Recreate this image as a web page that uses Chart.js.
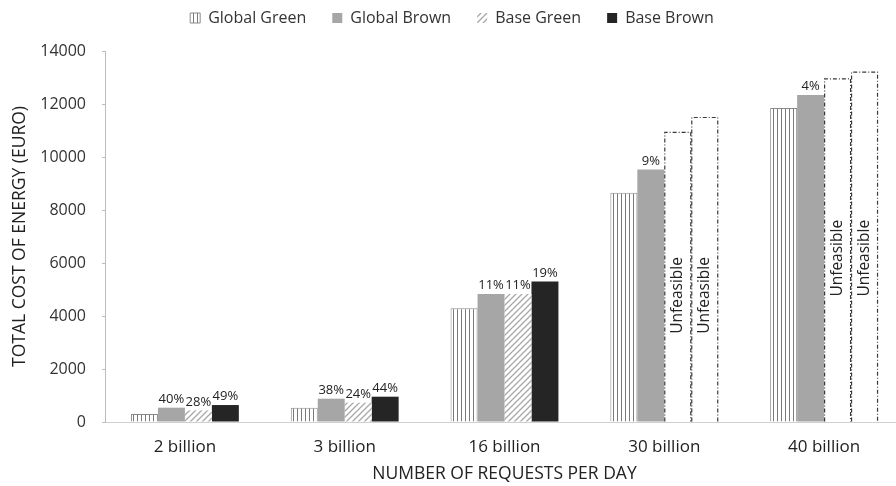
<!DOCTYPE html>
<html>
<head>
<meta charset="utf-8">
<script src="https://cdn.jsdelivr.net/npm/chart.js@4/dist/chart.umd.min.js"></script>
<style>
html,body{margin:0;padding:0;background:#fff;overflow:hidden;width:896px;height:486px;}
#wrap{position:relative;width:906px;height:486px;}
</style>
</head>
<body>
<div id="wrap"><canvas id="c" width="906" height="486"></canvas></div>
<script>
const categories = ['2 billion', '3 billion', '16 billion', '30 billion', '40 billion'];
const globalGreen = [300, 540, 4290, 8650, 11850];
const globalBrown = [540, 880, 4830, 9530, 12340];
const baseGreen = [440, 730, 4830, 10950, 12970];
const baseBrown = [640, 955, 5300, 11510, 13220];
const globalBrownPct = ['40%', '38%', '11%', '9%', '4%'];
const baseGreenPct = ['28%', '24%', '11%', '', ''];
const baseBrownPct = ['49%', '44%', '19%', '', ''];
const baseGreenFeasible = [true, true, true, false, false];
const baseBrownFeasible = [true, true, true, false, false];
const yTicks = [0, 2000, 4000, 6000, 8000, 10000, 12000, 14000];

const FONT = "'Open Sans', 'Liberation Sans', sans-serif";
const LEGEND_PAD = 26;
const LEGEND_FONT = 16;

function stripePattern() {
  const c = document.createElement('canvas');
  c.width = 4; c.height = 4;
  const x = c.getContext('2d');
  x.fillStyle = '#ffffff'; x.fillRect(0, 0, 4, 4);
  x.fillStyle = '#7a7a7a'; x.fillRect(1, 0, 1, 4);
  return x.createPattern(c, 'repeat');
}
function hatchPattern() {
  const s = 6;
  const c = document.createElement('canvas');
  c.width = s; c.height = s;
  const x = c.getContext('2d');
  x.fillStyle = '#ffffff'; x.fillRect(0, 0, s, s);
  x.strokeStyle = '#a8a8a8'; x.lineWidth = 1.3;
  x.beginPath();
  x.moveTo(0, s); x.lineTo(s, 0);
  x.moveTo(-1, 1); x.lineTo(1, -1);
  x.moveTo(s - 1, s + 1); x.lineTo(s + 1, s - 1);
  x.stroke();
  return x.createPattern(c, 'repeat');
}
const stripes = stripePattern();
const hatch = hatchPattern();

const bgColors = baseGreenFeasible.map(f => f ? hatch : '#ffffff');
const bbColors = baseBrownFeasible.map(f => f ? '#252525' : '#ffffff');

// keep legend compact vertically while spacing items horizontally
const legendPlacement = {
  id: 'legendPlacement',
  beforeLayout(chart) {
    const lg = chart.legend;
    if (!lg || lg._patched) return;
    lg._patched = true;
    const fit = lg.fit;
    lg.fit = function () { fit.call(this); this.height = 51; };
    const draw = lg.draw;
    lg.draw = function () {
      const shift = 18 - (this.top + LEGEND_PAD + LEGEND_FONT / 2);
      this.ctx.save();
      this.ctx.translate(0, shift);
      draw.call(this);
      this.ctx.restore();
    };
  }
};

const labelPlugin = {
  id: 'labels',
  afterDatasetsDraw(chart) {
    const ctx = chart.ctx;
    const pctSets = [null, globalBrownPct, baseGreenPct, baseBrownPct];
    const feas = [null, null, baseGreenFeasible, baseBrownFeasible];
    ctx.save();
    [2, 3].forEach(di => {
      const meta = chart.getDatasetMeta(di);
      meta.data.forEach((bar, i) => {
        if (feas[di][i]) return;
        const l = bar.x - bar.width / 2 + 0.5, r = bar.x + bar.width / 2 - 0.5;
        const t = bar.y + 0.5, b = bar.base;
        ctx.strokeStyle = '#3a3a3a';
        ctx.lineWidth = 1.2;
        ctx.setLineDash([4, 2, 1, 2]);
        ctx.beginPath();
        ctx.moveTo(l, b); ctx.lineTo(l, t); ctx.lineTo(r, t); ctx.lineTo(r, b);
        ctx.stroke();
        ctx.setLineDash([]);
        const gb = chart.getDatasetMeta(1).data[i];
        const cy = (gb.y + gb.base) / 2;
        ctx.save();
        ctx.translate(bar.x, cy);
        ctx.rotate(-Math.PI / 2);
        ctx.fillStyle = '#222';
        ctx.font = '15.5px ' + FONT;
        ctx.textAlign = 'center';
        ctx.textBaseline = 'middle';
        ctx.fillText('Unfeasible', 0, 0);
        ctx.restore();
      });
    });
    [1, 2, 3].forEach(di => {
      const meta = chart.getDatasetMeta(di);
      meta.data.forEach((bar, i) => {
        const txt = pctSets[di][i];
        if (!txt) return;
        ctx.fillStyle = '#222';
        ctx.font = '13px ' + FONT;
        ctx.textAlign = 'center';
        ctx.textBaseline = 'bottom';
        ctx.fillText(txt, bar.x, bar.y - 2);
      });
    });
    ctx.restore();
  }
};

new Chart(document.getElementById('c'), {
  type: 'bar',
  data: {
    labels: categories,
    datasets: [
      { label: 'Global Green', data: globalGreen, backgroundColor: stripes, borderColor: '#8a8a8a', borderWidth: 1 },
      { label: 'Global Brown', data: globalBrown, backgroundColor: '#a6a6a6', borderWidth: 0 },
      { label: 'Base Green', data: baseGreen, backgroundColor: bgColors, borderWidth: 0 },
      { label: 'Base Brown', data: baseBrown, backgroundColor: bbColors, borderWidth: 0 }
    ]
  },
  options: {
    responsive: false,
    animation: false,
    devicePixelRatio: 1,
    layout: { padding: { left: 0, right: 2, top: 0, bottom: 0 } },
    datasets: { bar: { barPercentage: 1, categoryPercentage: 0.675 } },
    plugins: {
      legend: {
        position: 'top',
        labels: {
          color: '#333',
          font: { family: FONT, size: LEGEND_FONT },
          boxWidth: 10, boxHeight: 10,
          padding: LEGEND_PAD
        }
      },
      tooltip: { enabled: false }
    },
    scales: {
      x: {
        grid: { display: true, drawOnChartArea: false, drawTicks: false, color: '#d0d0d0' },
        border: { color: '#d0d0d0' },
        ticks: { color: '#222', font: { family: FONT, size: 17 }, padding: 15 },
        title: { display: true, text: 'NUMBER OF REQUESTS PER DAY', color: '#222', font: { family: FONT, size: 17.5 }, padding: { top: 0, bottom: 1.5 } },
        afterFit(s) { s.height = 64; }
      },
      y: {
        min: 0, max: 14000,
        afterBuildTicks(s) { s.ticks = yTicks.map(v => ({ value: v })); },
        grid: { drawOnChartArea: false, drawTicks: true, tickLength: 3, color: '#bbbbbb' },
        border: { color: '#bbbbbb' },
        ticks: { color: '#333', font: { family: FONT, size: 16 }, padding: 16, callback: v => String(v) },
        title: { display: true, text: 'TOTAL COST OF ENERGY (EURO)', color: '#222', font: { family: FONT, size: 17.5 }, padding: { top: 9.5, bottom: 0 } },
        afterFit(s) { s.width = 105; }
      }
    }
  },
  plugins: [legendPlacement, labelPlugin]
});
</script>
</body>
</html>
